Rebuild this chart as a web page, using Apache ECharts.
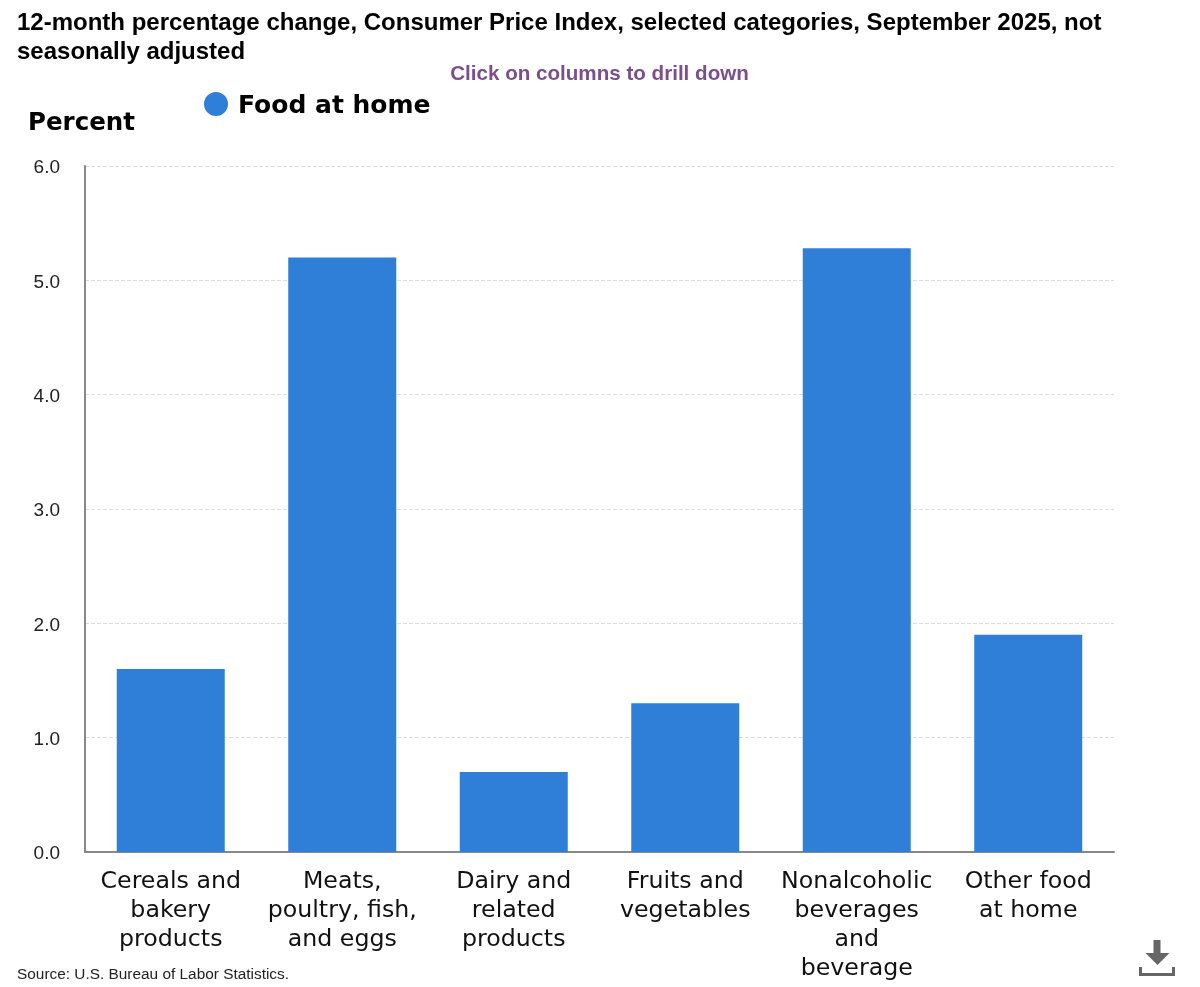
<!DOCTYPE html>
<html><head><meta charset="utf-8">
<style>html,body{margin:0;padding:0;background:#fff}#c{width:1200px;height:987px}</style>
<script src="https://cdn.jsdelivr.net/npm/echarts@6/dist/echarts.min.js"></script>
</head><body><div id="c"></div>
<script>
const titleText = "12-month percentage change, Consumer Price Index, selected categories, September 2025, not\nseasonally adjusted";
const subtitleText = "Click on columns to drill down";
const sourceText = "Source: U.S. Bureau of Labor Statistics.";
const seriesName = "Food at home";
const yAxisName = "Percent";
const categories = ["Cereals and\nbakery\nproducts","Meats,\npoultry, fish,\nand eggs","Dairy and\nrelated\nproducts","Fruits and\nvegetables","Nonalcoholic\nbeverages\nand\nbeverage","Other food\nat home"];
const values = [1.6,5.2,0.7,1.3,5.28,1.9];
const chart = echarts.init(document.getElementById('c'),null,{renderer:'canvas'});
chart.setOption({
  animation:false,
  backgroundColor:'#fff',
  title:[
    {text:titleText,left:12,top:4,textStyle:{fontFamily:'Liberation Sans',fontWeight:'bold',fontSize:24,lineHeight:29,color:'#000'}},
    {text:subtitleText,left:594.5,textAlign:'center',top:59,textStyle:{fontFamily:'Liberation Sans',fontWeight:'bold',fontSize:20.6,color:'#7b4f8e'}},
    {text:sourceText,left:12,top:962,textStyle:{fontFamily:'Liberation Sans',fontWeight:'normal',fontSize:15.4,color:'#222'}}
  ],
  legend:{left:204,top:92,padding:0,itemWidth:24,itemHeight:24,icon:'circle',itemGap:10,
    data:[seriesName],formatter:'{a|{name}}',
    textStyle:{rich:{a:{fontFamily:'DejaVu Sans',fontWeight:'bold',fontSize:25,color:'#000',padding:[4,0,0,5]}}}},
  grid:{left:85,right:86,top:166,bottom:135,containLabel:false},
  xAxis:{type:'category',data:categories,
    axisLine:{lineStyle:{color:'#888',width:2}},axisTick:{show:false},
    axisLabel:{interval:0,fontFamily:'DejaVu Sans',fontSize:23.7,lineHeight:29,color:'#111',margin:15}},
  yAxis:{type:'value',min:0,max:6,interval:1,name:yAxisName,nameLocation:'end',nameGap:30,
    nameTextStyle:{fontFamily:'DejaVu Sans',fontWeight:'bold',fontSize:24.5,color:'#000',align:'left',padding:[0,0,0,-57]},
    axisLine:{show:true,lineStyle:{color:'#888',width:2}},axisTick:{show:false},
    axisLabel:{margin:25,formatter:v=>'{a|'+v.toFixed(1)+'}',
      rich:{a:{fontFamily:'Liberation Sans',fontSize:19,color:'#222',padding:[4,0,0,0]}}},
    splitLine:{lineStyle:{type:'dashed',color:'#ddd',width:1}}},
  series:[{name:seriesName,type:'bar',data:values,barWidth:108,itemStyle:{color:'#2f7ed8'}}],
  graphic:[
    {type:'group',left:1138,top:940,children:[
      {type:'rect',shape:{x:15,y:0,width:7,height:14},style:{fill:'#666'}},
      {type:'polygon',shape:{points:[[7,13],[31,13],[19,25]]},style:{fill:'#666'}},
      {type:'polyline',shape:{points:[[2,27],[2,34.5],[35,34.5],[35,27]]},style:{stroke:'#666',fill:null,lineWidth:3}}
    ]}
  ]
});
</script></body></html>
